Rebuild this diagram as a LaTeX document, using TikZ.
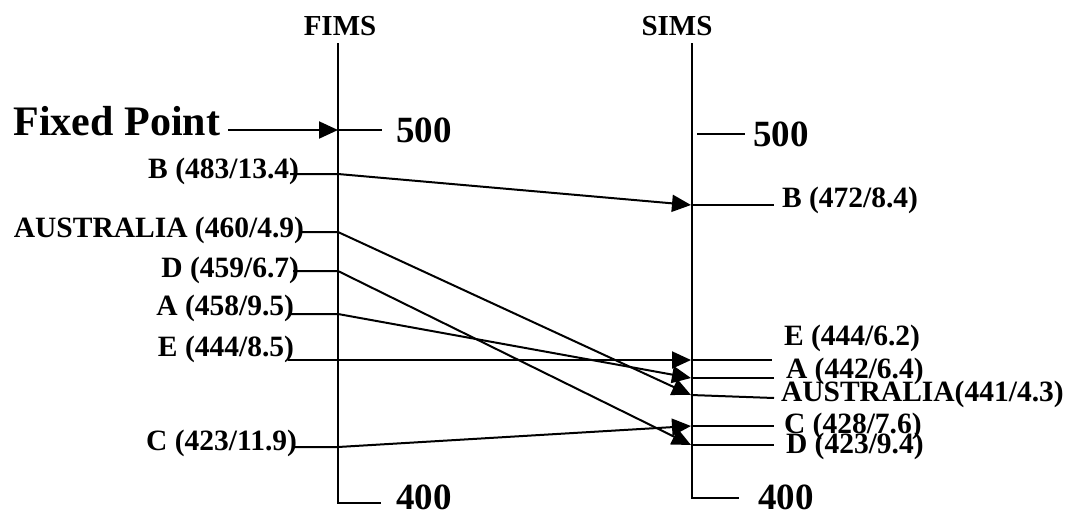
\documentclass[tikz,border=0pt]{standalone}
\usepackage{fontspec}
\setmainfont{Liberation Serif}
\usepackage{tikz}
\usetikzlibrary{arrows.meta,%
                positioning}

\begin{document}
\begin{tikzpicture}[x=1pt,y=-1pt,line width=2pt]
\tikzset{LabelStyle/.style = {inner sep      = 0pt,
                              yshift         = -3pt,
                              font           = \fontsize{29.5}{29.5}\selectfont\bfseries},
         ScaleStyle/.style = {inner sep      = 0pt,
                              font           = \fontsize{37}{37}\selectfont\bfseries},
         TitleStyle/.style = {inner sep      = 0pt,
                              font           = \fontsize{29}{29}\selectfont\bfseries},
         EdgeStyle/.style  = {-{Triangle[length=19pt,width=17pt]}}}
     \useasboundingbox (0,0) rectangle (1071,515);
     % the two scales
     \coordinate (Ftop) at (338,43);
     \coordinate (Fbot) at (338,503);
     \coordinate (Stop) at (692,43);
     \coordinate (Sbot) at (692,498);
     \node[TitleStyle](FIMS) at (340,26){FIMS};
     \node[TitleStyle](SIMS) at (677,26){SIMS};
     \draw(Ftop) -- (Fbot) -- ++(43,0) coordinate (F400);
     \draw(Stop) -- (Sbot) -- ++(47,0) coordinate (S400);
     \node[ScaleStyle,right=14pt of F400,yshift=6pt](F400L){400};
     \node[ScaleStyle,right=18pt of S400,yshift=1pt](S400L){400};
     % fixed point
     \node[inner sep=0pt,font=\fontsize{42}{42}\selectfont\bfseries,anchor=east](FP) at (221,121){Fixed Point};
     \coordinate (FPs) at (228,130);
     \coordinate (F500) at (338,130);
     \draw[EdgeStyle](FPs) -- (F500);
     \draw(F500) -- ++(44,0) coordinate (F500e);
     \node[ScaleStyle,right=13pt of F500e](F500L){500};
     \coordinate (S500) at (697,134);
     \draw(S500) -- ++(48,0) coordinate (S500e);
     \node[ScaleStyle,right=7pt of S500e](S500L){500};
     % FIMS side
     \node[LabelStyle,anchor=east](lB) at (300,168){B (483/13.4)};
     \node[LabelStyle,anchor=east](lAU) at (305,227){AUSTRALIA (460/4.9)};
     \node[LabelStyle,anchor=east](lD) at (300,267){D (459/6.7)};
     \node[LabelStyle,anchor=east](lA) at (295,305){A (458/9.5)};
     \node[LabelStyle,anchor=east](lE) at (295,346){E (444/8.5)};
     \node[LabelStyle,anchor=east](lC) at (298,440){C (423/11.9)};
     \coordinate (fB) at (338,174);
     \coordinate (fAU) at (338,232);
     \coordinate (fD) at (338,271);
     \coordinate (fA) at (338,314);
     \coordinate (fE) at (338,360);
     \coordinate (fC) at (338,447);
     % SIMS side
     \coordinate (sB) at (691,205);
     \coordinate (sE) at (691,360);
     \coordinate (sA) at (691,378);
     \coordinate (sAU) at (691,395);
     \coordinate (sC) at (691,426);
     \coordinate (sD) at (691,445);
     \node[LabelStyle,anchor=west](rB) at (781,197){B (472/8.4)};
     \node[LabelStyle,anchor=west](rE) at (783,335){E (444/6.2)};
     \node[LabelStyle,anchor=west](rA) at (785,368){A (442/6.4)};
     \node[LabelStyle,anchor=west](rAU) at (780,391){AUSTRALIA(441/4.3)};
     \node[LabelStyle,anchor=west](rC) at (783,423){C (428/7.6)};
     \node[LabelStyle,anchor=west](rD) at (785,443){D (423/9.4)};
     \draw[EdgeStyle]([xshift=-10pt]lB.east |- fB) -- (fB) -- (sB);
     \draw[EdgeStyle]([xshift=-5pt]lAU.east |- fAU) -- (fAU) -- (sAU);
     \draw[EdgeStyle]([xshift=-7pt]lD.east |- fD) -- (fD) -- (sD);
     \draw[EdgeStyle]([xshift=-5pt]lA.east |- fA) -- (fA) -- (sA);
     \draw[EdgeStyle]([xshift=-7pt]lE.east |- fE) -- (fE) -- (sE);
     \draw[EdgeStyle]([xshift=-3pt]lC.east |- fC) -- (fC) -- (sC);
     \draw(sB) -- ++(83,0);
     \draw(sE) -- ++(81,0);
     \draw(sA) -- ++(83,0);
     \draw(sAU) -- ++(83,3);
     \draw(sC) -- ++(83,0);
     \draw(sD) -- ++(83,0);
  \end{tikzpicture}
\end{document}
